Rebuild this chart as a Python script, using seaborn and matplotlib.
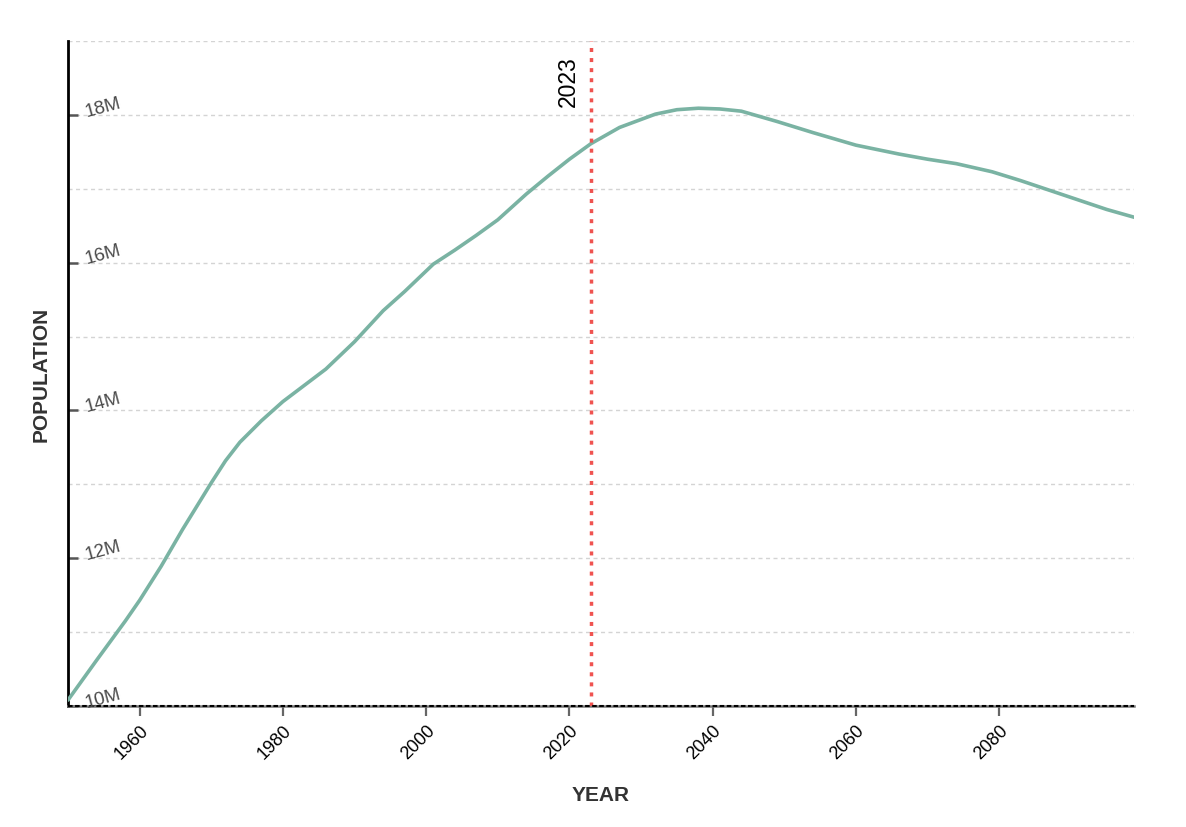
import numpy as np
import pandas as pd
import matplotlib
matplotlib.use("Agg")
import matplotlib.pyplot as plt
import matplotlib.transforms as mtransforms
import seaborn as sns

# -----------------------------
# data (population in millions)
# -----------------------------
years = [1950, 1954, 1958, 1960, 1963, 1966, 1970, 1972, 1974, 1977,
         1980, 1983, 1986, 1990, 1994, 1997, 2001, 2004, 2007, 2010,
         2014, 2017, 2020, 2023, 2027, 2032, 2035, 2038, 2041, 2044,
         2049, 2054, 2060, 2066, 2070, 2074, 2079, 2083, 2087, 2091,
         2095, 2099]
population = [10.08, 10.62, 11.15, 11.43, 11.89, 12.39, 13.02, 13.32, 13.57, 13.86,
              14.12, 14.34, 14.56, 14.93, 15.35, 15.61, 15.98, 16.17, 16.37, 16.58,
              16.93, 17.17, 17.40, 17.61, 17.83, 18.01, 18.07, 18.09, 18.08, 18.05,
              17.91, 17.76, 17.59, 17.47, 17.40, 17.34, 17.23, 17.11, 16.98, 16.85,
              16.72, 16.61]

x_ticks = [1960, 1980, 2000, 2020, 2040, 2060, 2080]
y_ticks = [10, 12, 14, 16, 18]
y_tick_labels = ["10M", "12M", "14M", "16M", "18M"]
y_grid = [10, 11, 12, 13, 14, 15, 16, 17, 18, 19]
marker_year = 2023

df = pd.DataFrame({"Year": years, "Population": population})

# -----------------------------
# style
# -----------------------------
sns.set_theme(style="white")
plt.rcParams["font.family"] = ["Liberation Sans", "DejaVu Sans"]

fig = plt.figure(figsize=(11.86, 8.28), dpi=100)
ax = fig.add_axes([0.0573, 0.1461, 0.8988, 0.8032])

# grid lines every 1M
for g in y_grid:
    ax.axhline(g, color="#d4d4d4", lw=1, ls=(0, (2.9, 2.5)), zorder=0)

sns.lineplot(data=df, x="Year", y="Population", color="#7ab3a3", lw=2.6, ax=ax,
             zorder=3, solid_joinstyle="round", solid_capstyle="round")

# 2023 marker
ax.axvline(marker_year, color="#ef5350", lw=2.5, ls=(0, (1.15, 1.75)), zorder=4)
ax.annotate(str(marker_year), xy=(marker_year, 1), xycoords=("data", "axes fraction"),
            xytext=(-8, -10), textcoords="offset points", rotation=90,
            ha="right", va="top", fontsize=16.5, color="black")

ax.set_xlim(1950, 2098.8)
ax.set_ylim(10, 19)

# spines
for side in ["top", "right"]:
    ax.spines[side].set_visible(False)
ax.spines["left"].set_color("black")
ax.spines["left"].set_linewidth(2)
ax.spines["bottom"].set_color("#777777")
ax.spines["bottom"].set_linewidth(1.8)
ax.axhline(10, color="black", lw=1.5, ls=(0, (2.2, 1.2)), zorder=5, clip_on=False)

# x ticks
ax.set_xticks(x_ticks)
ax.set_xticklabels([str(t) for t in x_ticks], rotation=45, ha="right",
                   rotation_mode="anchor", fontsize=13, color="black")
ax.tick_params(axis="x", which="major", direction="out", length=7, width=1.6,
               color="#666666", pad=4, bottom=True)

# y ticks: small inward marks, labels drawn inside the plot
ax.set_yticks(y_ticks)
ax.set_yticklabels([])
ax.tick_params(axis="y", which="major", direction="in", length=7.5, width=1.8,
               color="#555555", left=True)
trans = mtransforms.blended_transform_factory(ax.transAxes, ax.transData)
for val, lab in zip(y_ticks, y_tick_labels):
    ax.text(0.0175, val - 0.01, lab, transform=trans, rotation=15, rotation_mode="anchor",
            ha="left", va="baseline", fontsize=13.5, color="#4a4a4a", zorder=6)

ax.set_xlabel("YEAR", fontsize=15, fontweight="bold", color="#333333")
ax.set_ylabel("POPULATION", fontsize=15, fontweight="bold", color="#333333")
ax.xaxis.set_label_coords(0.5, -0.118)
ax.yaxis.set_label_coords(-0.016, 0.5)

fig.savefig("out.png", dpi=100)
